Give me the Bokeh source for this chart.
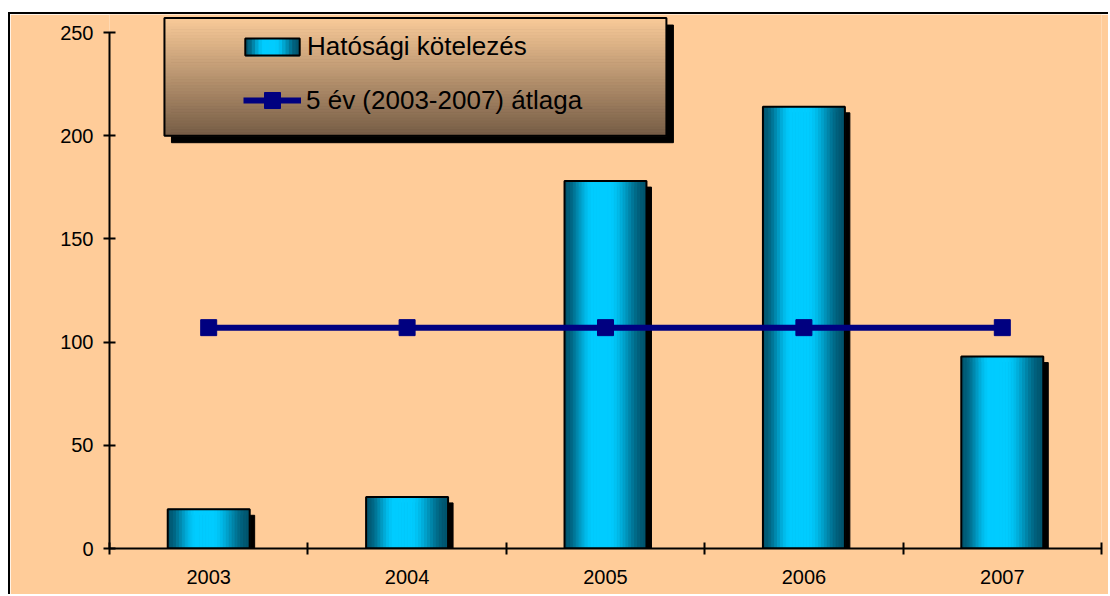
from bokeh.plotting import figure
from bokeh.models import (Range1d, FixedTicker, ColumnDataSource, BoxAnnotation,
                          Legend, LegendItem)
from bokeh.embed import file_html
from bokeh.resources import INLINE

# ---------------- data ----------------
years = ["2003", "2004", "2005", "2006", "2007"]
values = [19, 25, 178, 214, 93]
average = [107, 107, 107, 107, 107]
y_ticks = [0, 50, 100, 150, 200, 250]
bar_label = "Hatósági kötelezés"
line_label = "5 év (2003-2007) átlaga"

# ---------------- layout ----------------
PEACH = "#FFCC99"
NAVY = "#000080"
FONT = "Liberation Sans"
W, H = 1100, 582
ML, MR, MT, MB = 99, 9, 0, 48
frame_w = W - ML - MR
frame_h = H - MT - MB
span_px = 516                      # pixels from 0 to 250
y_end = 250 * frame_h / span_px
px_x = len(years) / frame_w        # data units per pixel (x)
px_y = 250 / span_px               # data units per pixel (y)

p = figure(width=W, height=H, output_backend="svg", toolbar_location=None,
           x_range=Range1d(0, len(years)), y_range=Range1d(0, y_end),
           min_border_left=ML, min_border_right=MR, min_border_top=MT,
           min_border_bottom=MB, background_fill_color=PEACH,
           border_fill_color=PEACH, outline_line_color=None,
           margin=(12, 0, 0, 8),
           styles={"border-left": "2px solid #000", "border-top": "2px solid #000"})
p.grid.visible = False

xs = [i + 0.5 for i in range(len(years))]
BAR_W = 0.413


def bar_color(t):
    if t < 0.35:
        f = t / 0.35
    elif t <= 0.55:
        f = 1.0
    else:
        f = max(0.0, (1 - t) / 0.45)
    f = f * f * (3 - 2 * f)
    dark = (0, 84, 110)
    bright = (0, 204, 255)
    c = [round(d + (b - d) * f) for d, b in zip(dark, bright)]
    return "#%02x%02x%02x" % tuple(c)


# shadows
sh = ColumnDataSource(dict(x=[x + 5 * px_x for x in xs],
                           top=[v - 6 * px_y for v in values]))
p.vbar(x="x", top="top", width=BAR_W, source=sh, fill_color="black",
       line_color="black")

# gradient strips, then outline (outline also serves as legend glyph frame)
N = 28
sx, stop, scol = [], [], []
for x, v in zip(xs, values):
    for j in range(N):
        t = (j + 0.5) / N
        sx.append(x - BAR_W / 2 + t * BAR_W)
        stop.append(v)
        scol.append(bar_color(t))
strips = ColumnDataSource(dict(x=sx, top=stop, color=scol))
p.vbar(x="x", top="top", width=BAR_W / N, source=strips,
       fill_color="color", line_color="color", line_width=1)
base_r = p.vbar(x=xs, top=values, width=BAR_W, fill_color=None,
                line_color="black", line_width=2)

# average line
line_r = p.line(xs, average, line_color=NAVY, line_width=6)
mark_r = p.scatter(xs, average, marker="square", size=16, fill_color=NAVY,
                   line_color=NAVY)

# axes
xa = p.xaxis[0]
xa.ticker = FixedTicker(ticks=xs, minor_ticks=list(range(len(years) + 1)))
xa.major_label_overrides = {x: y for x, y in zip(xs, years)}
xa.major_tick_in = 0
xa.major_tick_out = 0
xa.minor_tick_in = 6
xa.minor_tick_out = 6
xa.minor_tick_line_color = "black"
xa.minor_tick_line_width = 2
xa.axis_line_width = 2
xa.axis_line_color = "black"
xa.major_label_standoff = 15
xa.major_label_text_font = FONT
xa.major_label_text_font_size = "20px"
xa.major_label_text_color = "black"

ya = p.yaxis[0]
ya.ticker = FixedTicker(ticks=y_ticks, minor_ticks=[])
ya.bounds = (0, 250)
ya.major_tick_in = 6
ya.major_tick_out = 6
ya.major_tick_line_width = 2
ya.major_tick_line_color = "black"
ya.minor_tick_in = 0
ya.minor_tick_out = 0
ya.axis_line_width = 2
ya.axis_line_color = "black"
ya.major_label_standoff = 10
ya.major_label_text_font = FONT
ya.major_label_text_font_size = "20px"
ya.major_label_text_color = "black"

# legend frame (gradient box with shadow)
LX0, LX1 = 0.277, 2.807
LY0, LY1 = 200.0, 257.0
p.add_layout(BoxAnnotation(left=LX0 + 7 * px_x, right=LX1 + 7 * px_x,
                           bottom=LY0 - 7 * px_y, top=LY1 - 7 * px_y,
                           fill_color="black", fill_alpha=1, line_color="black",
                           line_alpha=1))
NG = 40
top_c = (250, 203, 153)
bot_c = (118, 93, 70)
for k in range(NG):
    t = (k + 0.5) / NG
    c = "#%02x%02x%02x" % tuple(round(a + (b - a) * t) for a, b in zip(top_c, bot_c))
    y1 = LY1 - (LY1 - LY0) * k / NG
    y0 = LY1 - (LY1 - LY0) * (k + 1) / NG
    p.add_layout(BoxAnnotation(left=LX0, right=LX1, bottom=y0, top=y1,
                               fill_color=c, fill_alpha=1, line_color=c,
                               line_alpha=1, line_width=1))
p.add_layout(BoxAnnotation(left=LX0, right=LX1, bottom=LY0, top=LY1,
                           fill_alpha=0, line_color="black", line_alpha=1,
                           line_width=2))

# gradient inside the legend's bar swatch
GX0, GX1 = 0.6855, 0.9577
GY0, GY1 = 238.7, 246.8
NS = 16
for j in range(NS):
    t = (j + 0.5) / NS
    c = bar_color(t)
    p.add_layout(BoxAnnotation(left=GX0 + (GX1 - GX0) * j / NS,
                               right=GX0 + (GX1 - GX0) * (j + 1) / NS,
                               bottom=GY0, top=GY1, fill_color=c, fill_alpha=1,
                               line_color=c, line_alpha=1, line_width=1))

common = dict(background_fill_alpha=0, border_line_color=None, padding=0,
              margin=0, label_text_font=FONT, label_text_font_size="26px",
              label_text_color="black")
leg1 = Legend(items=[LegendItem(label=bar_label, renderers=[base_r])],
              location=(129, 486), glyph_width=68, glyph_height=21,
              label_standoff=1, **common)
leg2 = Legend(items=[LegendItem(label=line_label, renderers=[line_r, mark_r])],
              location=(134, 428), glyph_width=58, glyph_height=40,
              label_standoff=5, **common)
p.add_layout(leg1)
p.add_layout(leg2)

open("out.html", "w").write(file_html(p, INLINE))
